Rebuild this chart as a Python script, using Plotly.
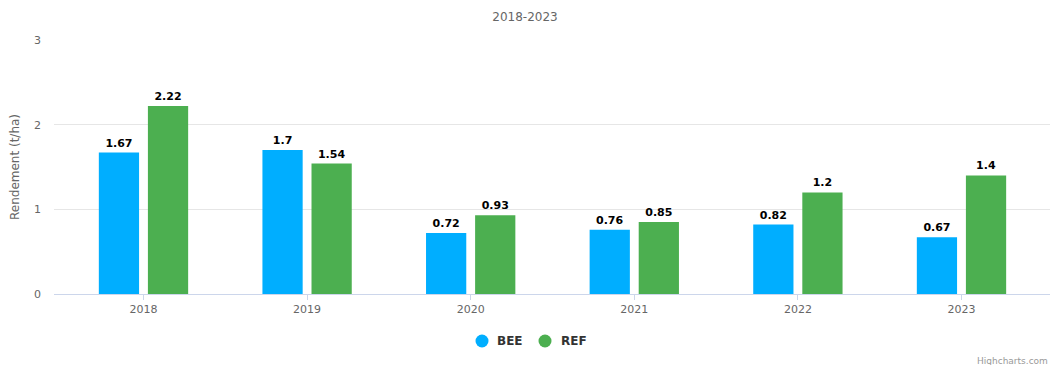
import plotly.graph_objects as go

years = ["2018", "2019", "2020", "2021", "2022", "2023"]
bee = [1.67, 1.7, 0.72, 0.76, 0.82, 0.67]
ref = [2.22, 1.54, 0.93, 0.85, 1.2, 1.4]
series_names = ["BEE", "REF"]
colors = ["#00aeff", "#4caf50"]

font_family = "DejaVu Sans, Verdana, sans-serif"
xpos = list(range(len(years)))

W, H = 1050, 365
fig = go.Figure()
for name, vals, col in zip(series_names, [bee, ref], colors):
    fig.add_trace(go.Bar(
        x=xpos, y=vals, name=name,
        marker=dict(color=col, line=dict(width=0)),
        text=[f"{v:g}" for v in vals],
        textposition="outside",
        textfont=dict(family=font_family, size=11, color="#000000", weight="bold"),
        cliponaxis=False,
        showlegend=False,
        hoverinfo="skip",
    ))

# legend drawn as circle symbols + bold labels centred under the plot
legend_y = 1 - 341 / H
legend_items = [(482, 495), (545, 559)]
shapes = []
annotations = []
for (cx, tx), name, col in zip(legend_items, series_names, colors):
    shapes.append(dict(
        type="circle", xref="paper", yref="paper",
        x0=(cx - 6.5 - 54) / 996, x1=(cx + 6.5 - 54) / 996,
        y0=(294 - 341 - 6.5) / 254, y1=(294 - 341 + 6.5) / 254,
        fillcolor=col, line=dict(width=0),
    ))
    annotations.append(dict(
        text=f"<b>{name}</b>", xref="paper", yref="paper",
        x=(tx - 54) / 996, xanchor="left", y=(294 - 341) / 254, yanchor="middle",
        showarrow=False, font=dict(size=12, color="#333333"),
    ))

annotations.append(dict(
    text="Highcharts.com", xref="paper", yref="paper",
    x=1, xanchor="right", y=-(361 - 294) / 254, yanchor="middle",
    showarrow=False, font=dict(size=9, color="#999999"),
))

fig.update_layout(
    width=W, height=H,
    margin=dict(l=54, r=0, t=40, b=71, autoexpand=False),
    paper_bgcolor="#ffffff", plot_bgcolor="#ffffff",
    font=dict(family=font_family, color="#666666"),
    barmode="group", bargap=0.4, bargroupgap=0.18,
    uniformtext=dict(minsize=11, mode="show"),
    showlegend=False,
    title=dict(text="2018-2023", x=0.5, xanchor="center", y=1 - 17 / H,
               yanchor="middle", font=dict(size=12, color="#666666")),
    xaxis=dict(
        tickmode="array", tickvals=xpos, ticktext=years,
        range=[-0.547, 5.541],
        showgrid=False, zeroline=False,
        showline=True, linecolor="#ccd6eb", linewidth=1,
        ticks="outside", ticklen=5, tickcolor="#ccd6eb",
        tickfont=dict(size=11, color="#666666"),
        fixedrange=True,
    ),
    yaxis=dict(
        range=[0, 3], tickvals=[0, 1, 2, 3],
        showgrid=True, gridcolor="#e6e6e6", gridwidth=1,
        zeroline=False, showline=False,
        tickfont=dict(size=11, color="#666666"),
        ticklabelstandoff=12,
        title=dict(text="Rendement (t/ha)", font=dict(size=12, color="#666666"), standoff=11),
        fixedrange=True,
    ),
    shapes=shapes,
    annotations=annotations,
)

fig.write_html("out.html")
